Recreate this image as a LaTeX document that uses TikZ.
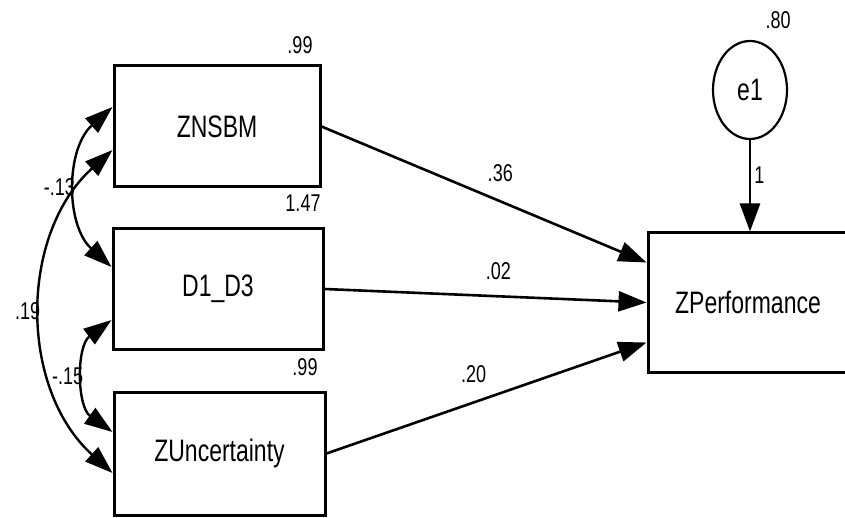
\documentclass[tikz,border=0pt]{standalone}
\usepackage{fontspec}
\setmainfont{Liberation Sans}
\usetikzlibrary{arrows.meta,shapes.geometric}

% the text in the picture is drawn a bit taller than wide
\newcommand{\tall}[1]{\scalebox{1}[1.35]{#1}}

\tikzset{
  var/.style={draw, line width=3pt, inner sep=0pt, font=\fontsize{23}{26}\selectfont},
  err/.style={draw, ellipse, line width=2.2pt, minimum width=74pt, minimum height=98pt,
              font=\fontsize{23}{26}\selectfont},
  num/.style={font=\fontsize{18}{20}\selectfont, inner sep=1pt},
  reg/.style={line width=2.6pt, -{Triangle[length=28pt,width=20pt]}},
  cov/.style={line width=2.4pt, {Triangle[length=28pt,width=19pt]}-{Triangle[length=28pt,width=19pt]}},
}

\begin{document}
\begin{tikzpicture}[x=1pt,y=1pt]
\useasboundingbox (0,0) rectangle (845,-518);

% observed variables
\node[var, minimum width=206pt, minimum height=121pt] (znsbm) at (217,-126.5) {\tall{ZNSBM}};
\node[var, minimum width=210pt, minimum height=120pt] (d1d3)  at (218,-289)   {\tall{D1\_D3}};
\node[var, minimum width=211pt, minimum height=123pt] (zunc)  at (219.5,-453.5) {\tall{ZUncertainty}};
\node[var, minimum width=200pt, minimum height=139pt] (zperf) at (748,-302.5) {\tall{ZPerformance}};
\node[err] (e1) at (750,-90) {\tall{e1}};

% variances
\node[num] (vznsbm) at (300,-45)  {\tall{.99}};
\node[num] (vd1d3)  at (303,-203) {\tall{1.47}};
\node[num] (vzunc)  at (305,-367) {\tall{.99}};
\node[num] (ve1)    at (778,-20)  {\tall{.80}};

% regression paths
\draw[reg] (znsbm.east) -- ([yshift=40pt]zperf.west)
  node[num, pos=.55, above=17pt] {\tall{.36}};
\draw[reg] (d1d3.east) -- (zperf.west)
  node[num, pos=.54, above=14pt] {\tall{.02}};
\draw[reg] (zunc.east) -- ([yshift=-40pt]zperf.west)
  node[num, pos=.46, above=17pt] {\tall{.20}};
\draw[reg] (e1.south) -- (e1.south |- zperf.north)
  node[num, pos=.38, right=2pt] {\tall{1}};

% covariances
\draw[cov] ([yshift=19.5pt]znsbm.west) to[bend right=48]
  node[num, left] {\tall{-.13}} ([yshift=22pt]d1d3.west);
\draw[cov] ([yshift=-23.5pt]znsbm.west) to[bend right=48]
  node[num, left] {\tall{.19}} ([yshift=-19.5pt]zunc.west);
\draw[cov] ([yshift=-31pt]d1d3.west) to[bend right=54]
  node[num, left] {\tall{-.15}} ([yshift=21.5pt]zunc.west);
\end{tikzpicture}
\end{document}
